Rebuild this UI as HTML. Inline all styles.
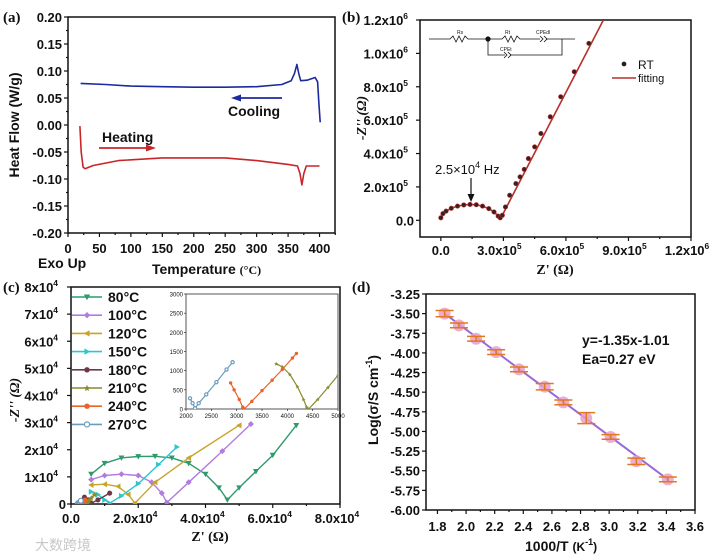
<!DOCTYPE html>
<html><head><meta charset="utf-8">
<style>
html,body{margin:0;padding:0;background:#fff;}
svg{display:block;font-family:"Liberation Sans",Arial,sans-serif;}
.tk{fill:#111;}
.ser{font-family:"Liberation Serif",serif;fill:#111;}
.wm{fill:#c8c8c8;}
</style></head>
<body>
<svg id="fig" width="720" height="560" viewBox="0 0 720 560" xmlns="http://www.w3.org/2000/svg">
<defs>
<clipPath id="clipA"><rect x="68" y="17" width="267" height="216"/></clipPath>
<clipPath id="clipB"><rect x="420" y="20" width="271" height="217"/></clipPath>
<clipPath id="clipC"><rect x="71" y="287" width="269" height="217"/></clipPath>
<clipPath id="clipI"><rect x="186" y="294" width="152" height="115"/></clipPath>
<clipPath id="clipD"><rect x="426" y="294" width="269" height="216"/></clipPath>
</defs>
</svg>
<script>
// ---------- Panel (a) DSC data ----------
const aCoolT=[20,60,100,150,200,250,300,340,355,360,364,367,370,380,393,397,399,401];
const aCoolH=[0.077,0.075,0.072,0.071,0.070,0.070,0.071,0.075,0.082,0.095,0.112,0.095,0.082,0.083,0.088,0.080,0.04,0.005];
const aHeatT=[19,21,24,27,40,80,150,200,250,300,350,365,369,372,375,379,400];
const aHeatH=[-0.002,-0.05,-0.078,-0.081,-0.075,-0.066,-0.061,-0.061,-0.061,-0.066,-0.073,-0.076,-0.09,-0.111,-0.09,-0.076,-0.076];
const aXTicks=[0,50,100,150,200,250,300,350,400];
const aYTicks=[0.20,0.15,0.10,0.05,0.00,-0.05,-0.10,-0.15,-0.20];
// ---------- Panel (b) Nyquist RT ----------
const bZre=[0,1e4,2.5e4,5e4,8e4,1.1e5,1.4e5,1.7e5,2e5,2.3e5,2.55e5,2.75e5,2.85e5,2.95e5,3.1e5,3.3e5,3.6e5,3.8e5,4e5,4.2e5,4.5e5,4.8e5,5.25e5,5.75e5,6.4e5,7.1e5];
const bZim=[1.5e4,4e4,5.5e4,7.2e4,8.5e4,9.2e4,9.5e4,9.3e4,8.5e4,7e4,5e4,2.5e4,1.5e4,3e4,8e4,1.5e5,2.2e5,2.6e5,3.05e5,3.7e5,4.4e5,5.2e5,6.2e5,7.4e5,8.9e5,1.06e6];
const bFitRe=[0,2.5e4,5e4,8e4,1.1e5,1.4e5,1.7e5,2e5,2.3e5,2.55e5,2.75e5,2.85e5,2.95e5,7.8e5];
const bFitIm=[1.5e4,5.5e4,7.2e4,8.5e4,9.2e4,9.5e4,9.3e4,8.5e4,7e4,5e4,2.5e4,1.5e4,3e4,1.2e6];
const bXTicks=[0,3e5,6e5,9e5,1.2e6];
const bYTicks=[0,2e5,4e5,6e5,8e5,1e6,1.2e6];
// ---------- Panel (c) Nyquist vs temperature ----------
const cNames=["80°C","100°C","120°C","150°C","180°C","210°C","240°C","270°C"];
const cColors=["#2f9a6c","#b07ce0","#c9a42a","#2cc6cc","#6e3848","#8a8a30","#e8642a","#6a9cc0"];
const cRe=[
 [6e3,1e4,1.5e4,2e4,2.5e4,3e4,3.5e4,4e4,4.4e4,4.65e4,5e4,5.5e4,6e4,6.7e4],
 [6e3,1e4,1.5e4,2e4,2.4e4,2.7e4,2.85e4,3.5e4,4.5e4,5.35e4],
 [6e3,1e4,1.4e4,1.7e4,1.9e4,2.5e4,3.5e4,5e4],
 [6e3,8e3,1e4,1.15e4,1.5e4,2e4,2.6e4,3.15e4],
 [4e3,5e3,6e3,8e3,1.15e4],
 [3780,3900,4050,4200,4320,4380,4420,4600,4800,5000,5300,6000,7000],
 [2880,2950,3050,3120,3150,3300,3500,3700,3900,4100,4180],
 [2080,2130,2180,2250,2400,2600,2800,2920]];
const cIm=[
 [11000,15000,17000,17500,17600,17000,15000,11000,6000,1500,6000,12000,18000,29000],
 [9000,10500,11000,10500,8000,4000,500,8000,19500,29500],
 [7000,7300,6500,3500,300,8000,17000,29000],
 [4500,3500,1500,300,3000,7500,14500,21000],
 [2500,1500,300,1500,4000],
 [1180,1100,900,580,250,50,0,250,560,880,1300,2200,3500],
 [680,500,250,50,0,200,480,750,1030,1330,1450],
 [280,150,20,150,380,700,1030,1220]];
const cXTicks=[0,2e4,4e4,6e4,8e4];
const cYTicks=[0,1e4,2e4,3e4,4e4,5e4,6e4,7e4,8e4];
const iXTicks=[2000,2500,3000,3500,4000,4500,5000];
const iYTicks=[0,500,1000,1500,2000,2500,3000];
// ---------- Panel (d) Arrhenius ----------
const dX=[1.85,1.95,2.07,2.21,2.37,2.55,2.68,2.84,3.01,3.19,3.41];
const dY=[-3.50,-3.65,-3.82,-3.99,-4.21,-4.43,-4.63,-4.83,-5.07,-5.38,-5.61];
const dErr=[0.04,0.03,0.03,0.03,0.03,0.04,0.03,0.07,0.03,0.04,0.03];
const dFitX=[1.85,3.41];
const dFitY=[-3.50,-5.61];
const dXTicks=[1.8,2.0,2.2,2.4,2.6,2.8,3.0,3.2,3.4,3.6];
const dYTicks=[-3.25,-3.50,-3.75,-4.00,-4.25,-4.50,-4.75,-5.00,-5.25,-5.50,-5.75,-6.00];

const NS="http://www.w3.org/2000/svg";
const svg=document.getElementById('fig');
function mk(tag,attrs,parent){const e=document.createElementNS(NS,tag);for(const k in attrs)e.setAttribute(k,attrs[k]);(parent||svg).appendChild(e);return e;}
function sc(d0,d1,p0,p1){return v=>p0+(v-d0)*(p1-p0)/(d1-d0);}
function txt(x,y,s,cls,anchor,name,extra){
  const e=mk('text',Object.assign({x:x,y:y,class:cls||'tk','text-anchor':anchor||'start','font-size':13,'font-weight':'bold'},extra||{}));
  e.textContent=s;
  
  
  return e;}
function sci(x,y,mant,exp,anchor,name,size){
  const e=mk('text',{x:x,y:y,class:'tk','text-anchor':anchor,'font-size':size||13,'font-weight':'bold'});
  e.appendChild(document.createTextNode(mant+"x10"));
  const t=mk('tspan',{dy:-6,'font-size':(size||13)*0.65},e);t.textContent=exp;
  
  
  return e;}
function frame(x,y,w,h,name,col,sw){
  const r=mk('rect',{x:x,y:y,width:w,height:h,fill:'none',stroke:col||'#111','stroke-width':sw||1.5});
  
  
  return r;}
function tick(x1,y1,x2,y2,name,sw){
  const l=mk('line',{x1:x1,y1:y1,x2:x2,y2:y2,stroke:'#111','stroke-width':sw||1.2});
  
  }
function poly(xs,ys,fx,fy,col,w,clip,name,parent){
  const p=xs.map((v,i)=>fx(v).toFixed(1)+','+fy(ys[i]).toFixed(1)).join(' ');
  const e=mk('polyline',{points:p,fill:'none',stroke:col,'stroke-width':w,'clip-path':'url(#'+clip+')','stroke-linejoin':'round'},parent);
  
  
  return e;}
function marker(type,x,y,col,s,name,clip){
  let e;
  if(type==='tri-down')e=mk('polygon',{points:`${x-s},${y-s*0.8} ${x+s},${y-s*0.8} ${x},${y+s}`,fill:col});
  else if(type==='diamond')e=mk('polygon',{points:`${x},${y-s} ${x+s},${y} ${x},${y+s} ${x-s},${y}`,fill:col});
  else if(type==='tri-left')e=mk('polygon',{points:`${x-s},${y} ${x+s*0.8},${y-s} ${x+s*0.8},${y+s}`,fill:col});
  else if(type==='tri-right')e=mk('polygon',{points:`${x+s},${y} ${x-s*0.8},${y-s} ${x-s*0.8},${y+s}`,fill:col});
  else if(type==='star')e=mk('polygon',{points:`${x},${y-s} ${x+s*0.3},${y-s*0.3} ${x+s},${y-s*0.2} ${x+s*0.45},${y+s*0.25} ${x+s*0.6},${y+s} ${x},${y+s*0.55} ${x-s*0.6},${y+s} ${x-s*0.45},${y+s*0.25} ${x-s},${y-s*0.2} ${x-s*0.3},${y-s*0.3}`,fill:col});
  else if(type==='open')e=mk('circle',{cx:x,cy:y,r:s*0.8,fill:'#fff',stroke:col,'stroke-width':1.2});
  else e=mk('circle',{cx:x,cy:y,r:s*0.85,fill:col});
  if(clip)e.setAttribute('clip-path','url(#'+clip+')');
  
  
  return e;}

// ================= Panel (a) =================
{
const fx=sc(0,424.6,68,335), fy=sc(-0.2,0.2,233,17);
txt(3,22,"(a)","ser",'start','panel-a-label',{'font-size':15});
frame(68,17,267,216,'panel-a-frame');
aXTicks.forEach(v=>{tick(fx(v),233,fx(v),237,'x-tick-a');txt(fx(v),253,String(v),'tk','middle','x-tick-label-a');});
aXTicks.forEach(v=>{tick(fx(v+25),233,fx(v+25),235,'x-minor-tick-a');});
aYTicks.forEach(v=>{tick(64,fy(v),68,fy(v),'y-tick-a');txt(62,fy(v)+5,v.toFixed(2),'tk','end','y-tick-label-a');});
aYTicks.slice(1).forEach(v=>{tick(66,fy(v+0.025),68,fy(v+0.025),'y-minor-tick-a');});
poly(aCoolT,aCoolH,fx,fy,'#1b2a9e',1.6,'clipA','cooling-curve');
poly(aHeatT,aHeatH,fx,fy,'#c8252a',1.6,'clipA','heating-curve');
txt(228,116,"Cooling",'tk','start','cooling-label',{'font-size':14});
txt(102,142,"Heating",'tk','start','heating-label',{'font-size':14});
const ca=mk('g',{});
mk('line',{x1:282,y1:98,x2:240,y2:98,stroke:'#1b2a9e','stroke-width':1.8},ca);
mk('polygon',{points:'231,98 241,94.5 241,101.5',fill:'#1b2a9e'},ca);
const ha=mk('g',{});
mk('line',{x1:99,y1:148,x2:147,y2:148,stroke:'#c8252a','stroke-width':1.8},ha);
mk('polygon',{points:'156,148 146,144.5 146,151.5',fill:'#c8252a'},ha);
txt(38,268,"Exo Up",'tk','start','exo-up-label',{'font-size':14});
const tt=txt(152,274,"Temperature ",'tk','start','x-axis-title-a',{'font-size':14});
const ts=mk('tspan',{'font-family':'"Liberation Serif",serif','font-size':12},tt);ts.textContent="(°C)";
txt(0,0,"Heat Flow (W/g)",'tk','middle','y-axis-title-a',{'font-size':14,transform:'translate(19,125) rotate(-90)'});
}
// ================= Panel (b) =================
{
const fx=sc(-1e5,1.2e6,420,691), fy=sc(-1e5,1.2e6,237,20);
txt(342,22,"(b)","ser",'start','panel-b-label',{'font-size':15});
frame(420,20,271,217,'panel-b-frame');
bXTicks.forEach(v=>{tick(fx(v),237,fx(v),241,'x-tick-b');
  if(v===0)txt(fx(v),255,"0.0",'tk','middle','x-tick-label-b');else{const e=Math.floor(Math.log10(v)+1e-9);sci(fx(v)-4,255,(v/10**e).toFixed(1),String(e),'middle','x-tick-label-b');}});
bXTicks.slice(0,-1).forEach(v=>tick(fx(v+1.5e5),237,fx(v+1.5e5),239,'x-minor-tick-b'));
bYTicks.forEach(v=>{tick(416,fy(v),420,fy(v),'y-tick-b');
  if(v===0)txt(414,fy(v)+5,"0.0",'tk','end','y-tick-label-b');else{const e=Math.floor(Math.log10(v)+1e-9);sci(408,fy(v)+5,(v/10**e).toFixed(1),String(e),'end','y-tick-label-b');}});
poly(bFitRe,bFitIm,fx,fy,'#b5302d',1.6,'clipB','fitting-line');
bZre.forEach((v,i)=>{const m=marker('circle',fx(v),fy(bZim[i]),'#3a2020',2.6,'rt-point','clipB');m.setAttribute('stroke','#b5302d');m.setAttribute('stroke-width','0.6');});
marker('circle',624,64,'#2a1a1a',2.8,'legend-rt-marker');
txt(638,69,"RT",'tk','start','legend-rt-text',{'font-weight':'normal','font-size':12});
const ll=mk('line',{x1:612,y1:78,x2:636,y2:78,stroke:'#b5302d','stroke-width':1.6});
txt(638,82,"fitting",'tk','start','legend-fitting-text',{'font-weight':'normal','font-size':11});
const cg=mk('g',{stroke:'#111','stroke-width':0.8,fill:'none'});
mk('polyline',{points:'429,39 450,39 453,36 456,42 459,36 462,42 465,36 468,39 488,39 502,39 505,36 508,42 511,36 514,42 517,36 520,39 540,39'},cg);
mk('line',{x1:546,y1:39,x2:575,y2:39},cg);
mk('path',{d:'M540,36 L543,39 L540,42 M544,36 L547,39 L544,42'},cg);
mk('polyline',{points:'488,39 488,55 505,55'},cg);
mk('path',{d:'M504,52 L507,55 L504,58 M508,52 L511,55 L508,58'},cg);
mk('polyline',{points:'510,55 562,55 562,39'},cg);
mk('circle',{cx:488,cy:39,r:2.2,fill:'#111'},cg);
txt(457,34,"Rs",'tk','start','circuit-rs',{'font-size':5,'font-weight':'normal'});
txt(505,34,"Rt",'tk','start','circuit-rt',{'font-size':5,'font-weight':'normal'});
txt(536,34,"CPEdl",'tk','start','circuit-cpedl',{'font-size':5,'font-weight':'normal'});
txt(500,51,"CPEt",'tk','start','circuit-cpet',{'font-size':5,'font-weight':'normal'});
const an=txt(435,174,"2.5×10",'tk','start','frequency-annotation',{'font-weight':'normal','font-size':13});
const s4=mk('tspan',{dy:-6,'font-size':9},an);s4.textContent="4";
const s5=mk('tspan',{dy:6},an);s5.textContent=" Hz";
const ar=mk('g',{});
mk('line',{x1:471,y1:178,x2:471,y2:196,stroke:'#111','stroke-width':1.2},ar);
mk('polygon',{points:'467.5,194 474.5,194 471,202',fill:'#111'},ar);
txt(555,274,"Z' (Ω)",'ser','middle','x-axis-title-b',{'font-size':14});
txt(0,0,"-Z'' (Ω)",'ser','middle','y-axis-title-b',{'font-size':14,'font-style':'italic',transform:'translate(366,118) rotate(-90)'});
}
// ================= Panel (c) =================
const cMarks=['tri-down','diamond','tri-left','tri-right','circle','star','circle','open'];
{
const fx=sc(0,8e4,71,340), fy=sc(0,8e4,504,287);
txt(3,292,"(c)","ser",'start','panel-c-label',{'font-size':15});
frame(71,287,269,217,'panel-c-frame');
cXTicks.forEach(v=>{tick(fx(v),504,fx(v),508,'x-tick-c');
  if(v===0)txt(fx(v),523,"0.0",'tk','middle','x-tick-label-c');else sci(fx(v)-3,523,(v/1e4).toFixed(1),"4",'middle','x-tick-label-c');});
cXTicks.slice(0,-1).forEach(v=>tick(fx(v+1e4),504,fx(v+1e4),506,'x-minor-tick-c'));
cYTicks.forEach(v=>{tick(67,fy(v),71,fy(v),'y-tick-c');
  if(v===0)txt(66,fy(v)+5,"0",'tk','end','y-tick-label-c');else sci(58,fy(v)+5,String(v/1e4),"4",'end','y-tick-label-c');});
cNames.forEach((n,k)=>{
  poly(cRe[k],cIm[k],fx,fy,cColors[k],1.4,'clipC','series-'+n);
  cRe[k].forEach((v,i)=>marker(cMarks[k],fx(v),fy(cIm[k][i]),cColors[k],3,'point-'+n,'clipC'));
});
cNames.forEach((n,k)=>{
  const y=297+k*18.2;
  const l=mk('line',{x1:72,y1:y,x2:102,y2:y,stroke:cColors[k],'stroke-width':1.6});
  
  
  marker(cMarks[k],87,y,cColors[k],3.2,'legend-marker-'+n);
  txt(108,y+5,n,'tk','start','legend-text-'+n,{'font-size':14});
});
const ix=sc(2000,5000,186,338), iy=sc(0,3000,409,294);
const bg=mk('rect',{x:186,y:294,width:152,height:115,fill:'#fff'});
frame(186,294,152,115,'inset-frame','#555',1);
iXTicks.forEach(v=>{tick(ix(v),409,ix(v),411,'inset-x-tick',0.6);txt(ix(v),418,String(v),'tk','middle','inset-x-tick-label',{'font-size':6,'font-weight':'normal'});});
iYTicks.forEach(v=>{tick(184,iy(v),186,iy(v),'inset-y-tick',0.6);txt(183,iy(v)+2.5,String(v),'tk','end','inset-y-tick-label',{'font-size':6,'font-weight':'normal'});});
[5,6,7].forEach(k=>{
  poly(cRe[k],cIm[k],ix,iy,cColors[k],1.2,'clipI','inset-series-'+cNames[k]);
  cRe[k].forEach((v,i)=>marker(cMarks[k],ix(v),iy(cIm[k][i]),cColors[k],2,'inset-point-'+cNames[k],'clipI'));
});
txt(210,541,"Z' (Ω)",'ser','middle','x-axis-title-c',{'font-size':14});
txt(0,0,"-Z'' (Ω)",'ser','middle','y-axis-title-c',{'font-size':14,'font-style':'italic',transform:'translate(19,400) rotate(-90)'});
txt(35,550,"大数跨境",'wm','start','watermark',{'font-family':'"Noto Sans CJK SC",sans-serif','font-size':14,'font-weight':'normal'});
}
// ================= Panel (d) =================
{
const fx=sc(1.72,3.6,426,695), fy=sc(-6,-3.25,510,294);
txt(352,292,"(d)","ser",'start','panel-d-label',{'font-size':15});
frame(426,294,269,216,'panel-d-frame');
dXTicks.forEach(v=>{tick(fx(v),510,fx(v),514,'x-tick-d');txt(fx(v),531,v.toFixed(1),'tk','middle','x-tick-label-d');});
dXTicks.slice(0,-1).forEach(v=>tick(fx(v+0.1),510,fx(v+0.1),512,'x-minor-tick-d'));
dYTicks.forEach(v=>{tick(422,fy(v),426,fy(v),'y-tick-d');txt(420,fy(v)+5,v.toFixed(2),'tk','end','y-tick-label-d');});
poly(dFitX,dFitY,fx,fy,'#9a68d8',2,'clipD','fit-line-d');
dX.forEach((v,i)=>{
  const cx=fx(v), cy=fy(dY[i]);
  const c=mk('circle',{cx:cx,cy:cy,r:6,fill:'#e8a0c8',opacity:0.85});
  
  
  const g=mk('g',{stroke:'#e07820','stroke-width':1.5});
  
  
  const hy=fy(dY[i]+dErr[i]), ly=fy(dY[i]-dErr[i]);
  mk('line',{x1:cx,y1:hy,x2:cx,y2:ly},g);
  mk('line',{x1:cx-9,y1:hy,x2:cx+9,y2:hy},g);
  mk('line',{x1:cx-9,y1:ly,x2:cx+9,y2:ly},g);
});
txt(582,345,"y=-1.35x-1.01",'tk','start','fit-equation',{'font-size':14});
txt(582,364,"Ea=0.27 eV",'tk','start','activation-energy',{'font-size':14});
const xt=txt(525,551,"1000/T ",'tk','start','x-axis-title-d',{'font-size':14});
const xs=mk('tspan',{'font-size':12},xt);xs.textContent="(K";
const xs2=mk('tspan',{'font-size':9,dy:-6},xt);xs2.textContent="-1";
const xs3=mk('tspan',{'font-size':12,dy:6},xt);xs3.textContent=")";
const yt=txt(0,0,"Log(σ/S cm",'tk','middle','y-axis-title-d',{'font-size':14,transform:'translate(378,400) rotate(-90)'});
const ys=mk('tspan',{'font-size':9,dy:-6},yt);ys.textContent="-1";
const ys2=mk('tspan',{dy:6},yt);ys2.textContent=")";
}
</script>
</body></html>
